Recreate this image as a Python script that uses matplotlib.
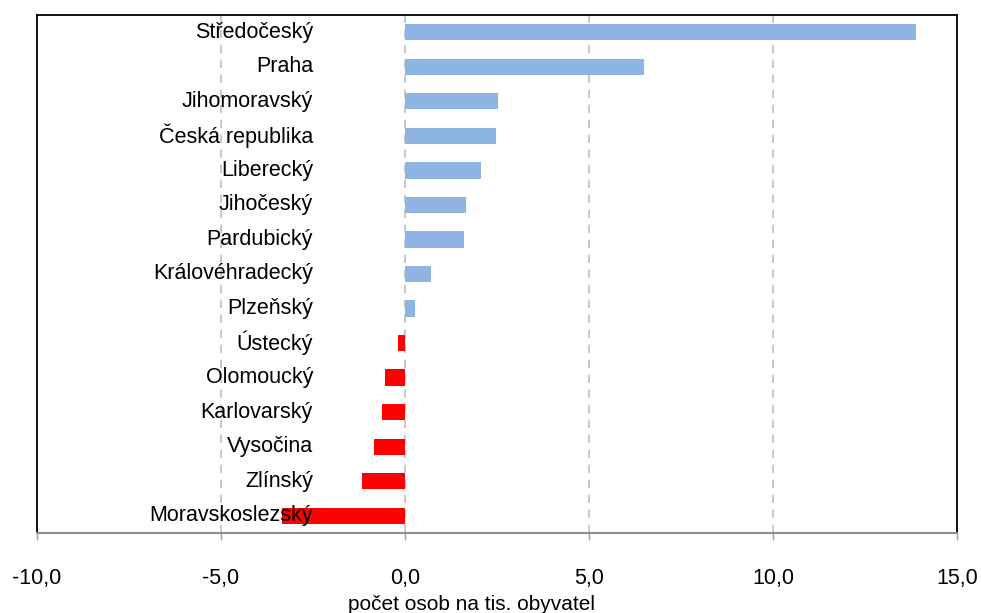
import matplotlib
matplotlib.use("Agg")
import matplotlib.pyplot as plt
import numpy as np

plt.rcParams['font.family'] = ['Liberation Sans', 'DejaVu Sans']

regions = ["Středočeský", "Praha", "Jihomoravský", "Česká republika", "Liberecký",
           "Jihočeský", "Pardubický", "Královéhradecký", "Plzeňský", "Ústecký",
           "Olomoucký", "Karlovarský", "Vysočina", "Zlínský", "Moravskoslezský"]
values = [13.88, 6.49, 2.52, 2.47, 2.07, 1.65, 1.6, 0.72, 0.27, -0.18,
          -0.55, -0.62, -0.84, -1.16, -3.34]
xticks = [-10, -5, 0, 5, 10, 15]
xtick_labels = ["-10,0", "-5,0", "0,0", "5,0", "10,0", "15,0"]
xlabel = "počet osob na tis. obyvatel"

fig = plt.figure(figsize=(9.81, 6.13), dpi=100)
ax = fig.add_axes([37/981, 1-533/613, (957-37)/981, (533-15)/613])

y = np.arange(len(regions))
colors = ['#8EB4E3' if v >= 0 else '#FF0000' for v in values]
ax.barh(y, values, height=0.47, color=colors, zorder=3)

ax.set_xlim(-10, 15)
ax.set_ylim(len(regions) - 0.5, -0.5)

for g in [-5, 0, 5, 10]:
    ax.axvline(g, color='#BFBFBF', linestyle=(0, (5, 4)), linewidth=1.2, zorder=1)

ax.set_yticks([])
for i, name in enumerate(regions):
    ax.text(-2.5, i, name, ha='right', va='center', fontsize=15.5, color='#000000', zorder=4)

ax.set_xticks(xticks)
ax.set_xticklabels(xtick_labels, fontsize=15.5)
ax.tick_params(axis='x', direction='out', length=5, width=1, color='#A6A6A6', pad=20)

fig.text(472/981, 3/613, xlabel, ha='center', va='baseline', fontsize=15)

for s in ['left', 'top', 'right']:
    ax.spines[s].set_color('black')
    ax.spines[s].set_linewidth(1.3)
ax.spines['bottom'].set_color('#8C8C8C')
ax.spines['bottom'].set_linewidth(1.5)

fig.savefig("out.png", dpi=100)
